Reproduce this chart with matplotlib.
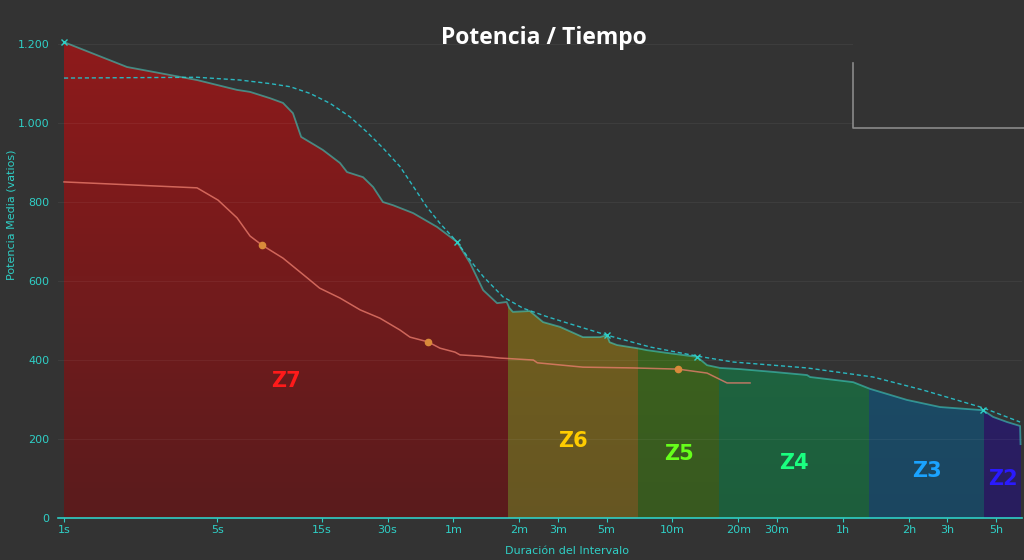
import numpy as np
import matplotlib.pyplot as plt
from matplotlib.colors import LinearSegmentedColormap
from matplotlib.lines import Line2D
from matplotlib.patches import Rectangle

# curva de potencia maxima (segundos, vatios)
dur = [1, 1.94, 4.05, 6.17, 7.07, 8.72, 10, 11.1, 12.1, 14, 15.2, 18.2, 19.6, 23.2,
       25.8, 28.6, 31.8, 39.3, 50.5, 62.3, 71.4, 82, 94.9, 105, 108, 112, 134,
       154, 184, 234, 280, 301, 310, 335, 413, 459, 567, 777, 863, 989, 1222,
       1727, 2470, 2550, 4010, 4790, 7060, 10000, 15710, 17460, 20230, 23190, 23300]
pot = [1205, 1142, 1109, 1084, 1079, 1063, 1051, 1025, 965, 944, 932, 899, 876, 863,
       838, 800, 792, 772, 737, 699, 646, 577, 544, 547, 532, 522, 524,
       496, 484, 458, 458, 463, 445, 438, 430, 425, 418, 408, 387, 380, 377,
       370, 362, 357, 344, 327, 299, 281, 273, 256, 243, 233, 187]

# modelo (linea discontinua)
mod_dur = [1, 4.05, 6.36, 8.72, 10.8, 13.3, 16.4, 20.2, 24.1, 28.7, 34.2, 39.4, 45.3,
           52.1, 62.1, 71.4, 82.2, 101, 125, 160, 198, 301, 474, 777, 1135, 2470,
           4945, 8360, 15710, 23190]
mod_pot = [1114, 1116, 1109, 1100, 1092, 1075, 1050, 1016, 978, 936, 890, 839, 788,
           746, 700, 653, 611, 560, 531, 510, 494, 463, 433, 410, 395, 380,
           357, 324, 279, 243]

# otra curva (periodo comparado)
cmp_dur = [1, 4.05, 5.05, 6.17, 7.07, 8.02, 10, 12.9, 14.7, 18.2, 22.5, 27.7, 34.2,
           38, 45.9, 52.1, 61, 64.3, 79.4, 97.9, 139, 145, 234, 396, 636, 863,
           1065, 1356]
cmp_pot = [851, 836, 805, 760, 714, 691, 658, 608, 582, 557, 527, 506, 476,
           458, 446, 430, 420, 413, 410, 405, 400, 393, 382, 380, 377, 367,
           342, 342]

# marcas
pk_dur = [1, 62.3, 301, 777, 15710]
pk_pot = [1205, 699, 463, 408, 273]
dot_dur = [8.02, 45.9, 636]
dot_pot = [691, 446, 377]

# zonas
zonas = ["Z7", "Z6", "Z5", "Z4", "Z3", "Z2"]
limites = [1, 106, 418, 979, 4740, 15880, 23400]
col_arriba = ["#8e1a1b", "#7c6718", "#3f6e1c", "#1f6c45", "#1c5270", "#2e1f73"]
col_abajo = ["#5a1b1c", "#665622", "#38591f", "#1d5e3c", "#1b4660", "#281d5e"]
col_texto = ["#ff1a1a", "#ffcc00", "#66ff1a", "#1aff80", "#1aa3ff", "#2a1aff"]
texto_y = [347, 195, 162, 139, 119, 99]

xticks = [1, 5, 15, 30, 60, 120, 180, 300, 600, 1200, 1800, 3600, 7200, 10800, 18000]
xlabels = ["1s", "5s", "15s", "30s", "1m", "2m", "3m", "5m", "10m", "20m", "30m",
           "1h", "2h", "3h", "5h"]
yticks = [0, 200, 400, 600, 800, 1000, 1200]
ylabels = ["0", "200", "400", "600", "800", "1.000", "1.200"]

bg = "#333333"
cyan = "#2fcfc6"

fig = plt.figure(figsize=(10.24, 5.6), dpi=100, facecolor=bg)
ax = fig.add_axes([58 / 1024, 42 / 560, 964 / 1024, 513 / 560], facecolor=bg)
ax.set_xscale("log")
ax.set_xlim(0.939, 23660)
ax.set_ylim(0, 1299)

# relleno bajo la curva, con degradado por zona
silueta = ax.fill_between(dur, pot, 0, color="none", lw=0)
clip = silueta.get_paths()[0]
yy = np.linspace(0, 1210, 80)
for i in range(len(zonas)):
    cmap = LinearSegmentedColormap.from_list("z", [col_abajo[i], col_arriba[i]])
    vals = (yy[:-1] / 1210)[:, None]
    m = ax.pcolormesh([limites[i], limites[i + 1]], yy, vals, cmap=cmap,
                      vmin=0, vmax=1, shading="flat", zorder=1, lw=0,
                      antialiased=False)
    m.set_clip_path(clip, transform=ax.transData)
    xm = np.sqrt(limites[i] * limites[i + 1])
    ax.text(xm, texto_y[i], zonas[i], color=col_texto[i], fontsize=15,
            fontweight="bold", ha="center", va="center", zorder=6)

for y in yticks[1:]:
    ax.axhline(y, color="white", alpha=0.05, lw=0.8, zorder=2)

ax.plot(mod_dur, mod_pot, color="#2ab8c0", lw=1.0, ls=(0, (3, 2)), zorder=4)
ax.plot(dur, pot, color="#3fd9cc", alpha=0.55, lw=1.3, zorder=4)
ax.plot(cmp_dur, cmp_pot, color="#f08070", alpha=0.75, lw=1.1, zorder=4)
ax.plot(pk_dur, pk_pot, ls="none", marker="x", ms=5, mew=1, color=cyan, zorder=5)
ax.plot(dot_dur, dot_pot, ls="none", marker="o", ms=4.5, color="#d98a3a", zorder=5)

ax.set_xticks(xticks)
ax.set_xticklabels(xlabels)
ax.minorticks_off()
ax.set_yticks(yticks)
ax.set_yticklabels(ylabels)
ax.tick_params(axis="x", colors=cyan, labelsize=8, length=3, width=0.8, pad=2)
ax.tick_params(axis="y", colors=cyan, labelsize=8, length=0, pad=6)
for s in ["top", "right", "left"]:
    ax.spines[s].set_visible(False)
ax.spines["bottom"].set_color(cyan)
ax.spines["bottom"].set_linewidth(1.2)

fig.text(567 / 1024, 1 - 551 / 560, "Duración del Intervalo", color=cyan,
         fontsize=8, ha="center", va="center")
fig.text(12 / 1024, 1 - 215 / 560, "Potencia Media (vatios)", color=cyan,
         fontsize=8, rotation=90, ha="center", va="center")
fig.text(544 / 1024, 1 - 38 / 560, "Potencia / Tiempo", color="white",
         fontsize=16.5, fontweight="bold", family="Open Sans", ha="center",
         va="center")

# recuadro de la esquina superior derecha
fig.add_artist(Rectangle((853 / 1024, 1 - 128 / 560), 0.2, 0.3,
                         transform=fig.transFigure, facecolor=bg, lw=0, zorder=3))
fig.add_artist(Line2D([853 / 1024, 853 / 1024, 1], [1 - 63 / 560, 1 - 128 / 560, 1 - 128 / 560],
                      transform=fig.transFigure, color="#8a8a8a", lw=1.2, zorder=4))

fig.savefig("out.png", dpi=100, facecolor=bg)
